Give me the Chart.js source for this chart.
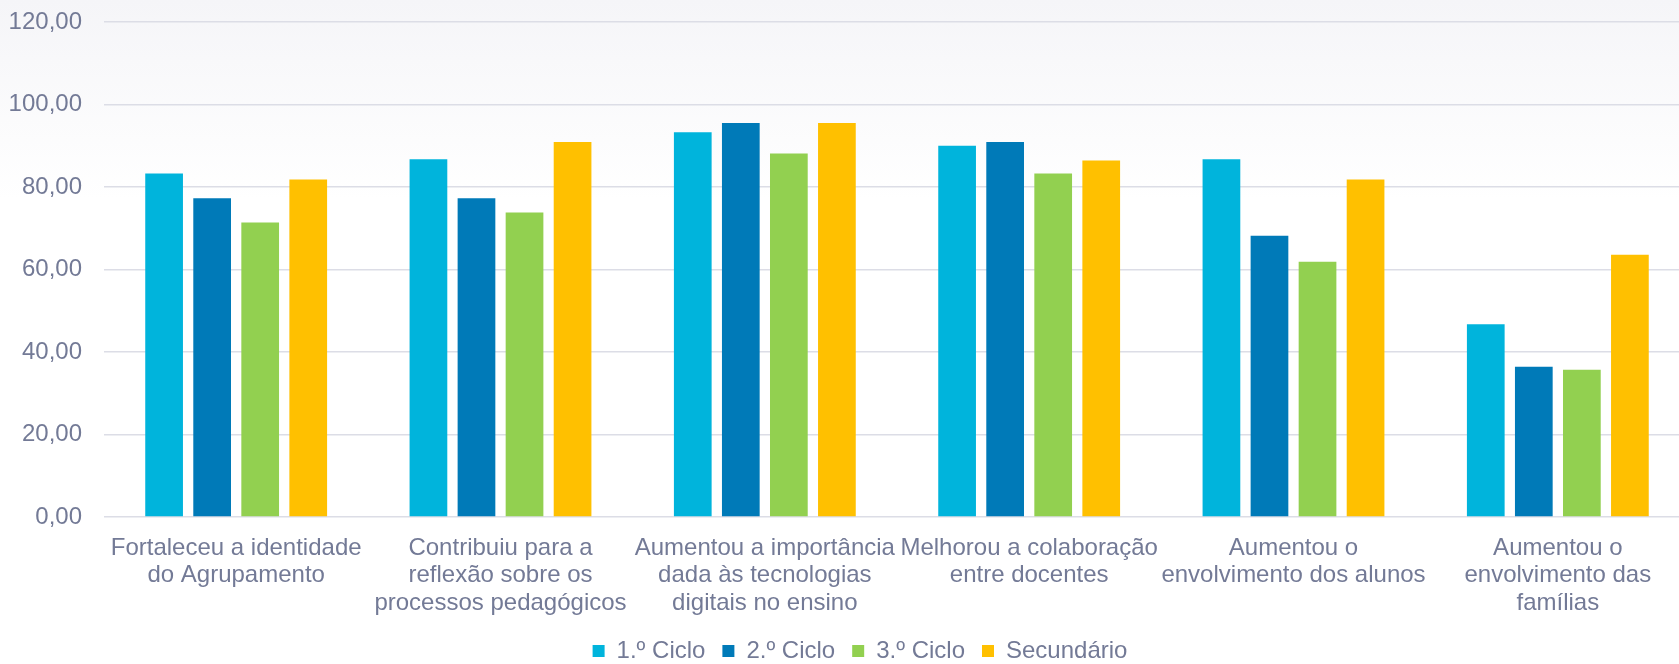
<!DOCTYPE html>
<html lang="pt">
<head>
<meta charset="utf-8">
<title>Impacto por ciclo</title>
<script src="https://cdn.jsdelivr.net/npm/chart.js@4/dist/chart.umd.min.js"></script>
<style>
    html, body { margin: 0; padding: 0; background: #ffffff; overflow: hidden; }
    #chart-box { width: 1690px; height: 664px; }
</style>
</head>
<body>
<div id="chart-box">
    <canvas id="summary-chart" width="1690" height="664"></canvas>
</div>
<script>
// Categories (multi-line labels as they wrap in the picture)
const categories = [
    ['Fortaleceu a identidade', 'do Agrupamento'],
    ['Contribuiu para a', 'reflexão sobre os', 'processos pedagógicos'],
    ['Aumentou a importância', 'dada às tecnologias', 'digitais no ensino'],
    ['Melhorou a colaboração', 'entre docentes'],
    ['Aumentou o', 'envolvimento dos alunos'],
    ['Aumentou o', 'envolvimento das', 'famílias']
];

const seriesNames = ['1.º Ciclo', '2.º Ciclo', '3.º Ciclo', 'Secundário'];

// Values
const ciclo1 = [83.3, 86.7, 93.3, 90.0, 86.7, 46.7];
const ciclo2 = [77.3, 77.3, 95.5, 90.9, 68.2, 36.4];
const ciclo3 = [71.4, 73.8, 88.1, 83.3, 61.9, 35.7];
const secundario = [81.8, 90.9, 95.5, 86.4, 81.8, 63.6];

const yTicks = [0, 20, 40, 60, 80, 100, 120];

const colors = ['#00b4dc', '#007ab8', '#92d050', '#ffc000'];
const textColor = '#737a96';
const fontFamily = 'Liberation Sans, Arial, sans-serif';

const seriesValues = [ciclo1, ciclo2, ciclo3, secundario];

// Soft grey wash behind the top of the plot
const backgroundWash = {
    id: 'backgroundWash',
    beforeDraw(chart) {
        const ctx = chart.ctx;
        const g = ctx.createLinearGradient(0, 0, 0, 200);
        g.addColorStop(0, '#f5f5f8');
        g.addColorStop(1, '#ffffff');
        ctx.save();
        ctx.fillStyle = g;
        ctx.fillRect(0, 0, chart.width, 200);
        ctx.restore();
    }
};

// Nudge the legend to where it sits in the original
const legendShift = {
    id: 'legendShift',
    afterLayout(chart) {
        const lg = chart.legend;
        if (lg) {
            lg.left += 15;
            lg.right += 15;
            lg.top -= 15;
            lg.bottom -= 15;
        }
    }
};

const ctx = document.getElementById('summary-chart').getContext('2d');

new Chart(ctx, {
    type: 'bar',
    data: {
        labels: categories,
        datasets: seriesValues.map((vals, i) => ({
            label: seriesNames[i],
            data: vals,
            backgroundColor: colors[i],
            borderWidth: 0,
            categoryPercentage: 0.727,
            barPercentage: 0.785
        }))
    },
    options: {
        responsive: false,
        animation: false,
        layout: {
            padding: { left: 0, right: 0, top: 0, bottom: -24 }
        },
        scales: {
            x: {
                grid: { display: false },
                border: { display: false },
                afterFit(axis) {
                    axis.height = 120;
                },
                ticks: {
                    color: textColor,
                    font: { family: fontFamily, size: 24, lineHeight: 1.16 },
                    maxRotation: 0,
                    minRotation: 0,
                    autoSkip: false,
                    padding: 9
                }
            },
            y: {
                min: 0,
                max: 120,
                afterBuildTicks(axis) {
                    axis.ticks = yTicks.map(v => ({ value: v }));
                },
                afterFit(axis) {
                    axis.width = 104;
                    axis.paddingTop = 22;
                    axis.paddingBottom = 0;
                },
                grid: {
                    color: '#dcdde6',
                    lineWidth: 1.6,
                    drawTicks: false
                },
                border: { display: false },
                ticks: {
                    color: textColor,
                    font: { family: fontFamily, size: 24 },
                    padding: 22,
                    callback: (v) => Number(v).toFixed(2).replace('.', ',')
                }
            }
        },
        plugins: {
            legend: {
                position: 'bottom',
                labels: {
                    color: textColor,
                    font: { family: fontFamily, size: 24 },
                    boxWidth: 12,
                    boxHeight: 12,
                    padding: 17
                }
            },
            tooltip: { enabled: false }
        }
    },
    plugins: [backgroundWash, legendShift]
});
</script>
</body>
</html>
